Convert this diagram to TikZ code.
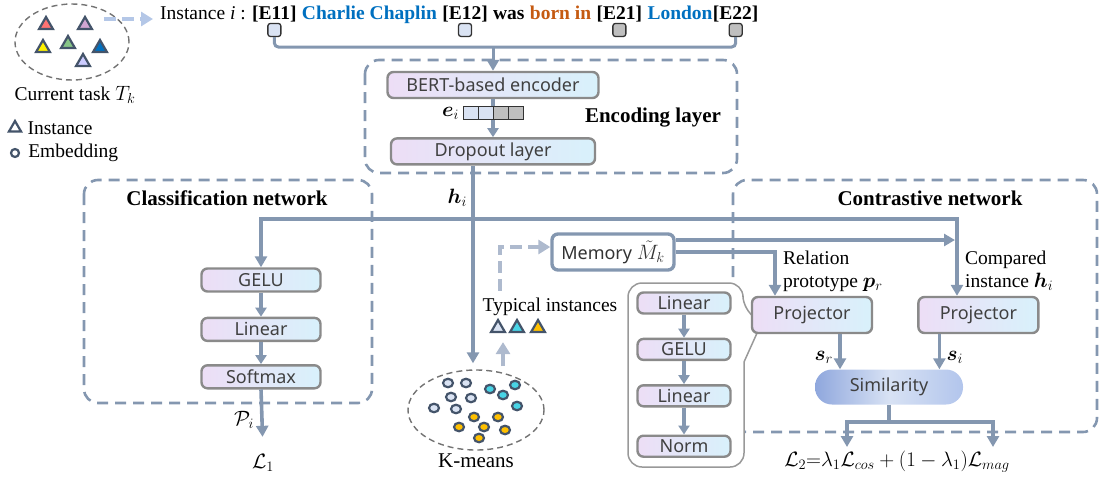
\documentclass[tikz,border=0pt]{standalone}
\usepackage{fontspec}
\usepackage{amsmath,bm}
\usepackage{xcolor}
\usepackage{tikz}
\usetikzlibrary{shapes.geometric, arrows.meta, positioning, calc}
\setmainfont{Liberation Serif}
\newfontfamily\boxfont{Noto Sans}

\definecolor{flowblue}{RGB}{132,151,176}
\definecolor{fadeblue}{RGB}{180,199,231}
\definecolor{fadegray}{RGB}{174,186,206}
\definecolor{slate}{RGB}{68,84,106}
\definecolor{boxgray}{RGB}{138,138,138}
\definecolor{boxpink}{RGB}{237,222,246}
\definecolor{boxcyan}{RGB}{216,241,251}
\definecolor{simdark}{RGB}{143,167,221}
\definecolor{simlight}{RGB}{216,226,244}
\definecolor{simright}{RGB}{178,197,236}
\definecolor{tokblue}{RGB}{218,227,243}
\definecolor{tokgray}{RGB}{191,191,191}
\definecolor{entblue}{RGB}{0,112,192}
\definecolor{relorange}{RGB}{197,90,17}
\definecolor{dotcyan}{RGB}{72,212,230}
\definecolor{dotgold}{RGB}{255,192,0}

\begin{document}
\begin{tikzpicture}[x=1pt, y=-1pt,
        font=\fontsize{19.5}{23}\selectfont,
        block/.style={rectangle, draw=boxgray, line width=2.4pt, rounded corners=6pt, left color=boxpink, right color=boxcyan, text=black!75, font=\boxfont\fontsize{18}{20}\selectfont, inner sep=0pt},
        panel/.style={draw=flowblue, line width=2.6pt, dash pattern=on 11pt off 7pt, rounded corners=14pt},
        headline/.style={font=\fontsize{21}{24}\selectfont\bfseries},
        word/.style={inner sep=0pt, font=\fontsize{19.5}{23}\selectfont\bfseries},
        tok/.style={rectangle, draw=black!80, line width=1.3pt, rounded corners=2.5pt, minimum size=13pt, inner sep=0pt},
        cell/.style={rectangle, draw=black!80, line width=1.3pt, minimum width=15pt, minimum height=13pt, inner sep=0pt, outer sep=0pt},
        inst/.style={regular polygon, regular polygon sides=3, draw=slate, line width=2.2pt, minimum size=16pt, inner sep=0pt},
        emb/.style={ellipse, draw=slate, line width=2.2pt, minimum width=10pt, minimum height=8.5pt, inner sep=0pt},
        cluster/.style={ellipse, draw=black!55, line width=1.4pt, dash pattern=on 6pt off 4pt},
        wire/.style={draw=flowblue, line width=3.6pt},
        arrow/.style={wire, -{Triangle[width=12pt,length=11pt]}},
        hop/.style={wire, line width=3.2pt, -{Triangle[width=11pt,length=9pt]}},
        lightflow/.style={line width=4.5pt, dash pattern=on 12pt off 6pt, -{Triangle[width=14pt,length=12pt]}}
    ]
    \useasboundingbox (0,0) rectangle (1100,477);

    % Panels
    \draw[panel] (365,60) rectangle (737,173);
    \draw[panel] (84,180) rectangle (372,403);
    \draw[panel] (733,180) rectangle (1097,432);

    % Projector detail
    \draw[draw=black!40, line width=1.5pt, fill=white]
        (628,380) [rounded corners=14pt] -- (628,283) -- (743,283) -- (743,310)
        [sharp corners] -- (762,322) -- (744,362)
        [rounded corners=14pt] -- (744,467) -- (628,467) -- cycle;

    % Current task
    \node (task) [cluster, minimum width=114pt, minimum height=76pt] at (72,42) {};
    \node (tri1) [inst, fill=red!55] at (46,25) {};
    \node (tri2) [inst, fill=violet!35] at (85,25) {};
    \node (tri3) [inst, fill=yellow] at (43,48) {};
    \node (tri4) [inst, fill=green!35!gray!70] at (68,44) {};
    \node (tri5) [inst, fill=entblue] at (100,48) {};
    \node (tri6) [inst, fill=blue!20] at (83,62) {};
    \node (tasklbl) at (75,95) {Current task $T_k$};

    % Legend
    \node (leginst) [inst, fill=white, minimum size=14pt] at (15,128) {};
    \node (leginstlbl) [right=7pt of leginst, inner sep=0pt] {Instance};
    \node (legemb) [emb, fill=white, minimum width=8pt, minimum height=8pt] at (15,153) {};
    \node (legemblbl) [right=8pt of legemb, inner sep=0pt] {Embedding};

    % Input sentence
    \node (sent) [anchor=base west, inner sep=0pt] at (160,19) {Instance \textit{i} :};
    \node (e11) [word, base right=6pt of sent] {[E11]};
    \node (chap) [word, base right=5pt of e11, text=entblue] {Charlie Chaplin};
    \node (e12) [word, base right=5pt of chap] {[E12]};
    \node (was) [word, base right=5pt of e12] {was};
    \node (born) [word, base right=5pt of was, text=relorange] {born in};
    \node (e21) [word, base right=5pt of born] {[E21]};
    \node (lond) [word, base right=5pt of e21, text=entblue] {London};
    \node (e22) [word, base right=0pt of lond] {[E22]};

    \node (k11) [tok, fill=tokblue, below=1pt of e11] {};
    \node (k12) [tok, fill=tokblue, below=1pt of e12] {};
    \node (k21) [tok, fill=tokgray, below=1pt of e21] {};
    \node (k22) [tok, fill=tokgray, below=1pt of e22] {};

    % Encoding layer
    \node (bert) [block, minimum width=211pt, minimum height=26pt] at (493,85) {BERT-based encoder};
    \node (drop) [block, minimum width=204pt, minimum height=26pt, below=38pt of bert] {Dropout layer};
    \node (enclbl) [headline] at (653,118) {Encoding layer};

    % Classification network
    \node (clslbl) [headline] at (227,198) {Classification network};
    \node (cgelu) [block, minimum width=119pt, minimum height=23pt] at (261,280) {GELU};
    \node (clin) [block, minimum width=119pt, minimum height=23pt, below=24pt of cgelu] {Linear};
    \node (csoft) [block, minimum width=119pt, minimum height=23pt, below=22pt of clin] {Softmax};
    \node (l1) at (263,463) {$\mathcal{L}_1$};

    % Memory and clustering
    \node (mem) [draw=flowblue, line width=3.4pt, rounded corners=6pt, fill=white, minimum width=122pt, minimum height=36pt, text=black!80, font=\boxfont\fontsize{18}{20}\selectfont] at (613,252) {Memory {\fontsize{19.5}{23}\selectfont$\tilde{M}_k$}};
    \node (typ) at (550,307) {Typical instances};
    \node (ty1) [inst, fill=tokblue] at (498,328) {};
    \node (ty2) [inst, fill=dotcyan] at (517,328) {};
    \node (ty3) [inst, fill=dotgold] at (538,328) {};

    \node (km) [cluster, minimum width=136pt, minimum height=80pt] at (476,410) {};
    \node (kmlbl) [below=0pt of km, font=\fontsize{21}{24}\selectfont] {K-means};
    \node (d1) [emb, fill=tokblue] at (448,383) {};
    \node (d2) [emb, fill=tokblue] at (466,383) {};
    \node (d3) [emb, fill=tokblue] at (451,397) {};
    \node (d4) [emb, fill=tokblue] at (471,398) {};
    \node (d5) [emb, fill=tokblue] at (434,408) {};
    \node (d6) [emb, fill=tokblue] at (456,409) {};
    \node (d7) [emb, fill=dotcyan] at (490,389) {};
    \node (d8) [emb, fill=dotcyan] at (515,385) {};
    \node (d9) [emb, fill=dotcyan] at (503,395) {};
    \node (d10) [emb, fill=dotcyan] at (517,406) {};
    \node (d11) [emb, fill=dotgold] at (474,417) {};
    \node (d12) [emb, fill=dotgold] at (498,417) {};
    \node (d13) [emb, fill=dotgold] at (459,427) {};
    \node (d14) [emb, fill=dotgold] at (484,427) {};
    \node (d15) [emb, fill=dotgold] at (505,430) {};
    \node (d16) [emb, fill=dotgold] at (479,438) {};

    % Projector layers
    \node (plin1) [block, minimum width=93pt, minimum height=21pt] at (684,303) {Linear};
    \node (pgelu) [block, minimum width=93pt, minimum height=21pt, below=23pt of plin1] {GELU};
    \node (plin2) [block, minimum width=93pt, minimum height=21pt, below=23pt of pgelu] {Linear};
    \node (pnorm) [block, minimum width=93pt, minimum height=21pt, below=27pt of plin2] {Norm};

    % Contrastive network
    \node (conlbl) [headline] at (930,198) {Contrastive network};
    \node (proj1) [block, minimum width=120pt, minimum height=36pt] at (812,315) {Projector};
    \node (proj2) [block, minimum width=120pt, minimum height=36pt, right=44pt of proj1] {Projector};
    \node (sim) [rectangle, rounded corners=17pt, minimum width=148pt, minimum height=35pt, left color=simdark, right color=simright, middle color=simlight, text=black!75, font=\boxfont\fontsize{18}{20}\selectfont] at (889,387) {Similarity};
    \node (reltxt) [anchor=west, align=left, inner sep=0pt] at (783,271) {Relation\\prototype $\bm{p}_r$};
    \node (cmptxt) [anchor=west, align=left, inner sep=0pt] at (965,271) {Compared\\instance $\bm{h}_i$};
    \node (l2) at (897,462) {$\mathcal{L}_2{=}\lambda_1\mathcal{L}_{cos}+(1-\lambda_1)\mathcal{L}_{mag}$};

    \coordinate (bus) at (493,47);
    \coordinate (hsplit) at (473,219);
    \coordinate (cmp) at (957,219);
    \coordinate (lsplit) at (888,422);
    \coordinate (lcos) at (847,447);
    \coordinate (lmag) at (993,447);

    % Edges
    \draw[lightflow, draw=fadeblue, shorten <=-9pt, shorten >=7pt] (task.north east |- sent.base west) -- (sent.base west);

    \draw[wire, line width=3pt, rounded corners=4pt] (k11.south) |- (bus) -| (k22.south);
    \draw[arrow, line width=3pt] (bus) -- (bert.north);
    \draw[hop] (bert) -- (drop);

    \node (c1) [cell, fill=tokblue] at (471,113) {};
    \node (c2) [cell, fill=tokblue, right=0pt of c1] {};
    \node (c3) [cell, fill=tokgray, right=0pt of c2] {};
    \node (c4) [cell, fill=tokgray, right=0pt of c3] {};
    \node (elbl) [left=1pt of c1] {$\bm{e}_i$};

    \draw[arrow, shorten >=6pt] (drop.south -| hsplit) -- node[pos=0.16, left=1pt] {$\bm{h}_i$} (hsplit |- km.north);
    \draw[arrow] (hsplit) -| (cgelu.north);
    \draw[arrow] (hsplit) -- (cmp) -- (cmp |- proj2.north);

    \draw[hop] (cgelu) -- (clin);
    \draw[hop] (clin) -- (csoft);
    \draw[arrow, shorten >=14pt] (csoft.south) -- node[pos=0.5, left=3pt] {$\mathcal{P}_i$} (l1.north);

    \draw[arrow, shorten >=2pt] ([yshift=12pt]mem.east) -- ([yshift=12pt]mem.east -| cmp);
    \draw[arrow] (mem.east) -| ([xshift=-37pt]proj1.north);

    \draw[lightflow, draw=fadegray, shorten <=3pt, shorten >=9pt] ([xshift=27pt]km.north) -- ([xshift=27pt]km.north |- ty2.south);
    \draw[lightflow, draw=fadegray, shorten <=4pt] ([xshift=-50pt]typ.north) |- ([yshift=5pt]mem.west);

    \draw[hop] (plin1) -- (pgelu);
    \draw[hop] (pgelu) -- (plin2);
    \draw[hop] (plin2) -- (pnorm);

    \draw[arrow] ([xshift=28pt]proj1.south) -- node[pos=0.65, left=2pt] {$\bm{s}_r$} ([xshift=28pt]proj1.south |- sim.north);
    \draw[arrow] ([xshift=-39pt]proj2.south) -- node[pos=0.65, right=2pt] {$\bm{s}_i$} ([xshift=-39pt]proj2.south |- sim.north);

    \draw[wire] (sim.south) -- (sim.south |- lsplit);
    \draw[arrow] (lsplit) -| (lcos);
    \draw[arrow] (lsplit) -| (lmag);

\end{tikzpicture}
\end{document}
